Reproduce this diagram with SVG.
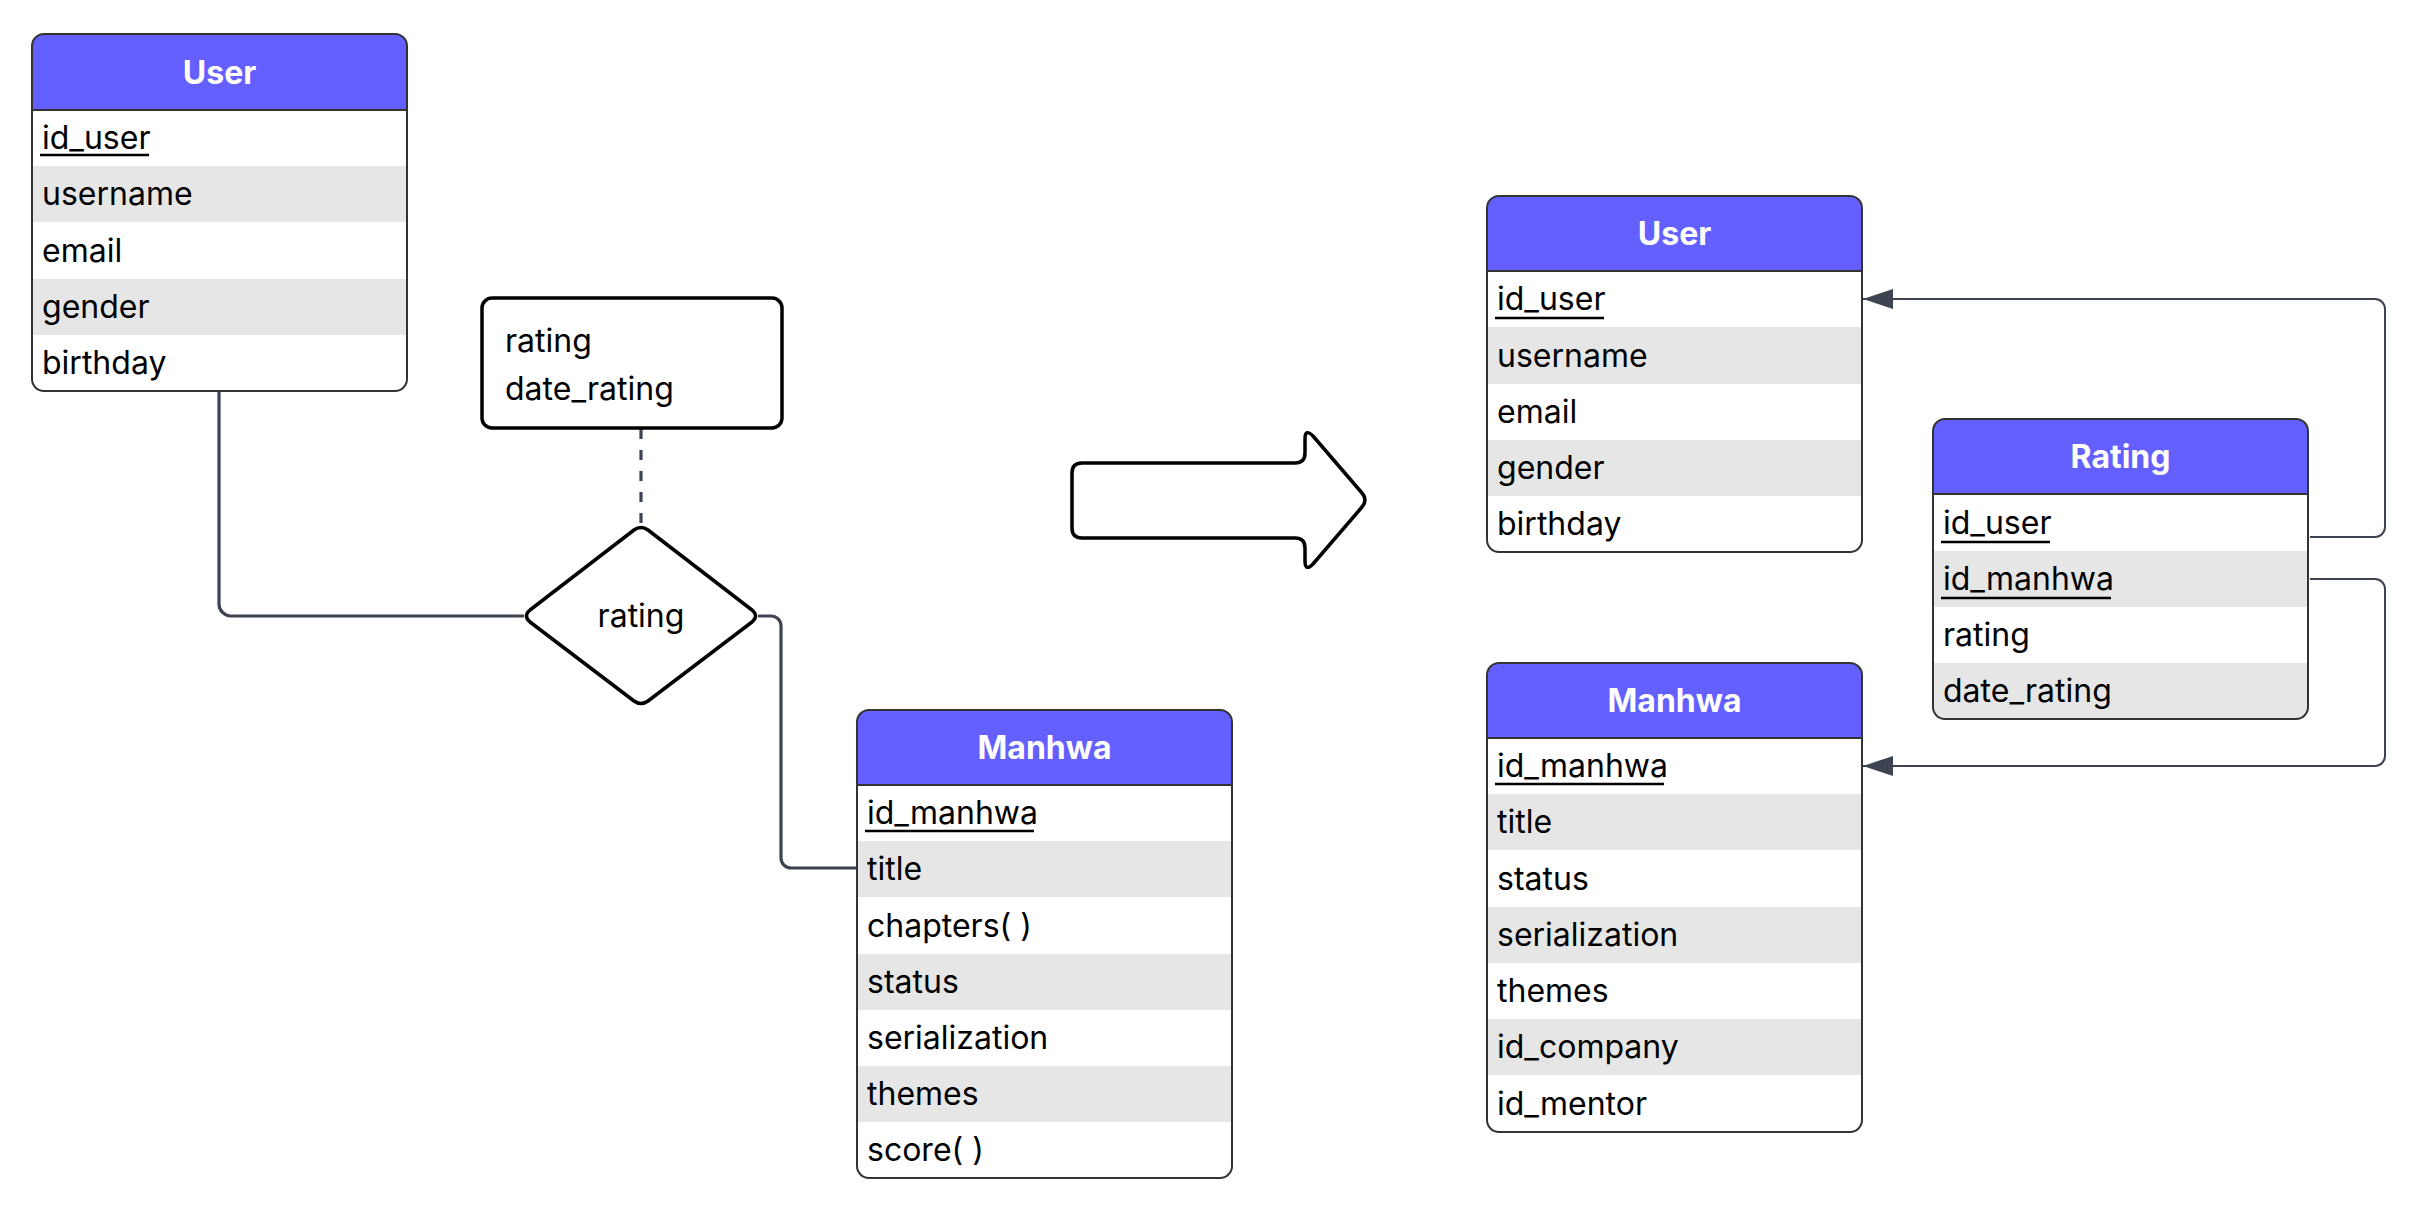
<svg xmlns="http://www.w3.org/2000/svg" width="2431" height="1215" viewBox="0 0 2431 1215">
<style>
text{font-family:Inter,"Liberation Sans",sans-serif;font-size:32px;fill:#000}
.hd{fill:#6360FF}
.ht{font-weight:700;fill:#fff;text-anchor:middle}
.g{fill:#E6E6E6}
.ol{fill:none;stroke:#333;stroke-width:2}
.hl{stroke:#333;stroke-width:2}
.ul{stroke:#000;stroke-width:2.5}
.c3{fill:none;stroke:#3D4350;stroke-width:3.2}
.c2{fill:none;stroke:#3D4350;stroke-width:2}
.blk{fill:#fff;stroke:#000;stroke-width:3.5;stroke-linejoin:round}
</style>
<defs>
<marker id="ah" markerUnits="userSpaceOnUse" markerWidth="30" markerHeight="20" refX="30" refY="10" orient="auto">
<path d="M0,0 L30,10 L0,20 Z" fill="#3D4350"/>
</marker>
</defs>
<rect width="2431" height="1215" fill="#fff"/>

<g id="connectors">
<path class="c3" d="M219,392 V604 A12,12 0 0 0 231,616 H524"/>
<path class="c3" d="M758,616 H771 A10,10 0 0 1 781,626 V858 A10,10 0 0 0 791,868 H857"/>
<path class="c3" d="M641,429 V524" stroke-width="3.6" stroke-dasharray="10 11"/>
<path class="c2" d="M2310,537 H2375 A10,10 0 0 0 2385,527 V309 A10,10 0 0 0 2375,299 H1863" marker-end="url(#ah)"/>
<path class="c2" d="M2310,579 H2375 A10,10 0 0 1 2385,589 V756 A10,10 0 0 1 2375,766 H1863" marker-end="url(#ah)"/>
</g>

<g id="user-left">
<rect x="32" y="34" width="375" height="357" rx="12" fill="#fff"/>
<path class="hd" d="M32,110 V46 A12,12 0 0 1 44,34 H395 A12,12 0 0 1 407,46 V110 Z"/>
<rect class="g" x="33" y="166" width="373" height="56"/>
<rect class="g" x="33" y="279" width="373" height="56"/>
<line class="hl" x1="32" y1="110" x2="407" y2="110"/>
<rect class="ol" x="32" y="34" width="375" height="357" rx="12"/>
<text class="ht" x="219.5" y="83.5">User</text>
<text x="42" y="149">id_user</text>
<line class="ul" x1="40" y1="155" x2="149" y2="155"/>
<text x="42" y="205">username</text>
<text x="42" y="261.5">email</text>
<text x="42" y="318">gender</text>
<text x="42" y="374">birthday</text>
</g>

<g id="attr-box">
<rect x="482" y="298" width="300" height="130" rx="10" fill="#fff" stroke="#000" stroke-width="3.5"/>
<text x="505" y="352">rating</text>
<text x="505" y="400">date_rating</text>
</g>

<g id="rel-rating">
<path d="M634,530 Q641,525 648,530 L752,610 Q759,616 752,622 L648,701 Q641,706 634,701 L530,622 Q523,616 530,610 Z" fill="#fff" stroke="#000" stroke-width="3.5" stroke-linejoin="round"/>
<text x="641" y="627" text-anchor="middle">rating</text>
</g>

<g id="manhwa-left">
<rect x="857" y="710" width="375" height="468" rx="12" fill="#fff"/>
<path class="hd" d="M857,785 V722 A12,12 0 0 1 869,710 H1220 A12,12 0 0 1 1232,722 V785 Z"/>
<rect class="g" x="858" y="841" width="373" height="56"/>
<rect class="g" x="858" y="954" width="373" height="56"/>
<rect class="g" x="858" y="1066" width="373" height="56"/>
<line class="hl" x1="857" y1="785" x2="1232" y2="785"/>
<rect class="ol" x="857" y="710" width="375" height="468" rx="12"/>
<text class="ht" x="1044.5" y="758.5">Manhwa</text>
<text x="867" y="824">id_manhwa</text>
<line class="ul" x1="865" y1="831" x2="1034" y2="831"/>
<text x="867" y="880">title</text>
<text x="867" y="936.5">chapters( )</text>
<text x="867" y="993">status</text>
<text x="867" y="1049">serialization</text>
<text x="867" y="1105">themes</text>
<text x="867" y="1161">score( )</text>
</g>

<g id="transform-arrow">
<path class="blk" d="M1082,463 H1295 Q1305,463 1305,453 V439 Q1305,428 1313,436 L1362,493 Q1368,500 1362,507 L1313,564 Q1305,572 1305,561 V548 Q1305,538 1295,538 H1082 Q1072,538 1072,528 V473 Q1072,463 1082,463 Z"/>
</g>

<g id="user-right">
<rect x="1487" y="196" width="375" height="356" rx="12" fill="#fff"/>
<path class="hd" d="M1487,271 V208 A12,12 0 0 1 1499,196 H1850 A12,12 0 0 1 1862,208 V271 Z"/>
<rect class="g" x="1488" y="327" width="373" height="57"/>
<rect class="g" x="1488" y="440" width="373" height="56"/>
<line class="hl" x1="1487" y1="271" x2="1862" y2="271"/>
<rect class="ol" x="1487" y="196" width="375" height="356" rx="12"/>
<text class="ht" x="1674.5" y="244.5">User</text>
<text x="1497" y="310">id_user</text>
<line class="ul" x1="1495" y1="318" x2="1604" y2="318"/>
<text x="1497" y="366.5">username</text>
<text x="1497" y="423">email</text>
<text x="1497" y="479">gender</text>
<text x="1497" y="535">birthday</text>
</g>

<g id="rating-table">
<rect x="1933" y="419" width="375" height="300" rx="12" fill="#fff"/>
<path class="hd" d="M1933,494 V431 A12,12 0 0 1 1945,419 H2296 A12,12 0 0 1 2308,431 V494 Z"/>
<rect class="g" x="1934" y="551" width="373" height="56"/>
<path class="g" d="M1934,663 H2307 V707 A11,11 0 0 1 2296,718 H1945 A11,11 0 0 1 1934,707 Z"/>
<line class="hl" x1="1933" y1="494" x2="2308" y2="494"/>
<rect class="ol" x="1933" y="419" width="375" height="300" rx="12"/>
<text class="ht" x="2120.5" y="467.5">Rating</text>
<text x="1943" y="533.5">id_user</text>
<line class="ul" x1="1941" y1="542" x2="2050" y2="542"/>
<text x="1943" y="590">id_manhwa</text>
<line class="ul" x1="1941" y1="598" x2="2111" y2="598"/>
<text x="1943" y="646">rating</text>
<text x="1943" y="702">date_rating</text>
</g>

<g id="manhwa-right">
<rect x="1487" y="663" width="375" height="469" rx="12" fill="#fff"/>
<path class="hd" d="M1487,738 V675 A12,12 0 0 1 1499,663 H1850 A12,12 0 0 1 1862,675 V738 Z"/>
<rect class="g" x="1488" y="794" width="373" height="56"/>
<rect class="g" x="1488" y="907" width="373" height="56"/>
<rect class="g" x="1488" y="1019" width="373" height="56"/>
<line class="hl" x1="1487" y1="738" x2="1862" y2="738"/>
<rect class="ol" x="1487" y="663" width="375" height="469" rx="12"/>
<text class="ht" x="1674.5" y="712">Manhwa</text>
<text x="1497" y="777">id_manhwa</text>
<line class="ul" x1="1495" y1="784" x2="1664" y2="784"/>
<text x="1497" y="833">title</text>
<text x="1497" y="889.5">status</text>
<text x="1497" y="946">serialization</text>
<text x="1497" y="1002">themes</text>
<text x="1497" y="1058">id_company</text>
<text x="1497" y="1114.5">id_mentor</text>
</g>
</svg>
